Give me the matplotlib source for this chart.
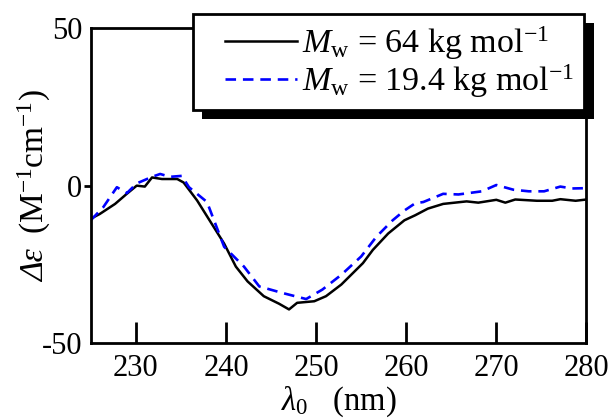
import matplotlib
matplotlib.use("Agg")
import matplotlib.pyplot as plt
import matplotlib.patheffects as pe
from matplotlib.lines import Line2D
from matplotlib.legend_handler import HandlerLine2D

# CD spectra
wl_64 = [225, 226, 227.7, 229, 230.1, 231, 231.8, 232.9, 234.6, 235.3, 236.8,
         239.8, 241.1, 242.4, 244.2, 245.9, 247, 247.9, 249.8, 251.1, 252.8,
         255.2, 256.3, 258, 259.8, 261, 262.4, 264.1, 266.7, 268, 270, 271,
         272.1, 274.5, 276.2, 277.1, 278.8, 280]
de_64 = [-10.5, -9, -5.8, -2.6, 0, -0.3, 2.6, 2.1, 2.1, 1, -4.7,
         -18.4, -25.7, -30.4, -35.1, -37.5, -39.3, -37.2, -36.7, -35.1, -31.4,
         -24.6, -20.4, -15.2, -11, -9.4, -7.3, -5.8, -5, -5.4, -4.5, -5.4,
         -4.4, -4.8, -4.8, -4.3, -4.8, -4.4]

wl_194 = [225, 226.4, 227.9, 229, 230.1, 231.8, 232.7, 233.8, 235.1, 235.9,
          237.9, 239.8, 242, 243.7, 246.3, 248.9, 250.7, 252.8, 255, 256.7,
          258.5, 259.8, 261, 261.9, 264.1, 265.8, 268.4, 270, 271.9, 273.6,
          275.3, 277.1, 278.4, 280]
de_194 = [-11, -6.8, -0.5, -2.4, 0.7, 2.8, 3.7, 2.8, 3.1, -0.5,
          -5.2, -19.4, -25.7, -32, -34.1, -36, -33, -28.3, -22.5, -16.2,
          -11, -7.9, -5.6, -5.2, -2.6, -2.8, -1.8, 0.2, -1.3, -1.8,
          -1.8, -0.3, -0.9, -0.8]

x_ticks = [230, 240, 250, 260, 270, 280]
y_ticks = [-50, 0, 50]

plt.rcParams["font.family"] = "Liberation Serif"
plt.rcParams["mathtext.fontset"] = "custom"
plt.rcParams["mathtext.rm"] = "Liberation Serif"
plt.rcParams["mathtext.it"] = "Liberation Serif:italic"
plt.rcParams["mathtext.bf"] = "Liberation Serif:bold"
plt.rcParams["axes.unicode_minus"] = False

fig = plt.figure(figsize=(6.09, 4.20), dpi=100)
ax = fig.add_axes([0.149, 0.183, 0.814, 0.750])

ax.plot(wl_64, de_64, color="black", lw=1.8,
        label=r"$M_\mathrm{w}$ = 64 kg mol$^{-1}$")
ax.plot(wl_194, de_194, color="#0000ff", lw=1.9, ls=(0, (4, 2.6)),
        label=r"$M_\mathrm{w}$ = 19.4 kg mol$^{-1}$")

ax.set_xlim(225, 280)
ax.set_ylim(-50, 50)
ax.set_xticks(x_ticks)
ax.set_yticks(y_ticks)

for s in ax.spines.values():
    s.set_linewidth(2)

ax.tick_params(axis="x", direction="in", length=15, width=2,
               labelsize=22, pad=8)
ax.tick_params(axis="y", direction="out", length=5, width=2,
               labelsize=22, pad=1)
yt = ax.yaxis.get_major_ticks()
yt[0].tick1line.set_visible(False)
yt[-1].tick1line.set_visible(False)

ax.set_xlabel(r"$\lambda_0$   (nm)", fontsize=23.5, labelpad=1)

# y label in two parts so that the Delta can be italic
ax.text(-0.095, 0.193, "Δε", transform=ax.transAxes, rotation=90,
        rotation_mode="anchor", ha="left", va="baseline",
        fontsize=24, fontstyle="italic")
ax.text(-0.095, 0.345, r"(M$^{-1}$cm$^{-1}$)", transform=ax.transAxes,
        rotation=90, rotation_mode="anchor", ha="left", va="baseline",
        fontsize=24)

leg = ax.legend(loc="upper right", bbox_to_anchor=(0.996, 1.044),
                borderaxespad=0, fontsize=24.5, frameon=True, fancybox=False,
                framealpha=1, edgecolor="black", handlelength=2.74,
                handletextpad=0.15, labelspacing=0.0, borderpad=0.3,
                handler_map={Line2D: HandlerLine2D(xpad=0.62)})
frame = leg.get_frame()
frame.set_linewidth(2)
frame.set_path_effects([
    pe.SimplePatchShadow(offset=(6.5, -6.5), shadow_rgbFace="black", alpha=1),
    pe.Normal(),
])

fig.savefig("out.png", dpi=100, facecolor="white")
